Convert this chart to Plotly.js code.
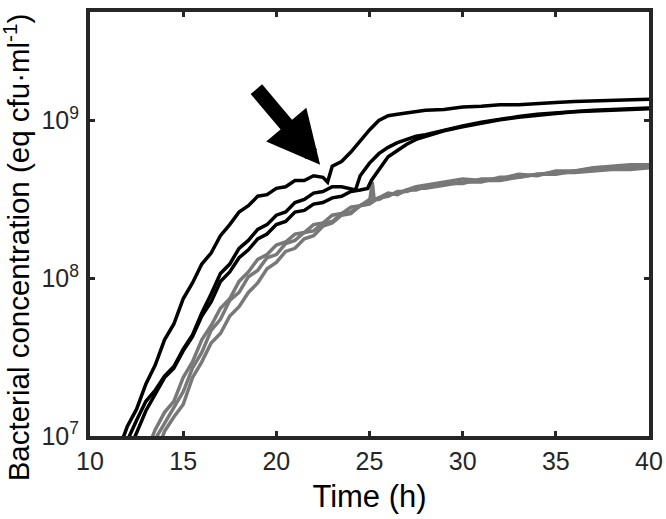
<!DOCTYPE html>
<html>
<head>
<meta charset="utf-8">
<script src="https://cdn.plot.ly/plotly-3.0.1.min.js"></script>
<style>html,body{margin:0;padding:0;background:#fff;}#chart{width:666px;height:519px;}</style>
</head>
<body>
<div id="chart"></div>
<script>
// Times (h) and log10 bacterial concentration (eq cfu/ml)
var tA = [11.5,12,12.5,13,13.5,14,14.5,15,15.5,16,16.5,17,17.5,18,18.5,19,19.5,20,20.5,21,21.5,22,22.5,22.75,23,23.5,24,24.5,25,25.5,26,26.5,27,28,29,30,31,32,33,34,35,36,37,38,39,40];
var logA = [6.90,7.06,7.17,7.33,7.45,7.61,7.71,7.87,7.97,8.09,8.16,8.27,8.34,8.42,8.46,8.52,8.53,8.57,8.58,8.62,8.62,8.65,8.64,8.61,8.71,8.74,8.80,8.87,8.94,9.00,9.03,9.04,9.05,9.065,9.07,9.085,9.09,9.10,9.10,9.11,9.115,9.12,9.125,9.13,9.13,9.135];

var tB = [11.5,12,12.5,13,13.5,14,14.5,15,15.5,16,16.5,17,17.5,18,18.5,19,19.5,20,20.5,21,21.5,22,22.5,23,23.5,24,24.25,24.5,25,25.5,26,26.5,27,27.5,28,29,30,31,32,33,34,35,36,37,38,39,40];
var logB = [6.82,6.97,7.10,7.22,7.29,7.38,7.44,7.55,7.64,7.78,7.90,8.03,8.09,8.19,8.24,8.31,8.34,8.40,8.42,8.48,8.50,8.54,8.55,8.58,8.58,8.57,8.56,8.65,8.73,8.79,8.83,8.86,8.88,8.90,8.91,8.94,8.965,8.99,9.01,9.025,9.04,9.05,9.06,9.065,9.07,9.075,9.08];

var tC = [11.5,12,12.5,13,13.5,14,14.5,15,15.5,16,16.5,17,17.5,18,18.5,19,19.5,20,20.5,21,21.5,22,22.5,23,23.5,24,24.5,24.9,25.1,25.5,26,26.5,27,27.5,28,29,30,31,32,33,34,35,36,37,38,39,40];
var logC = [6.75,6.88,7.02,7.16,7.26,7.37,7.43,7.54,7.63,7.76,7.85,7.98,8.04,8.13,8.18,8.25,8.28,8.34,8.36,8.42,8.43,8.47,8.48,8.51,8.52,8.55,8.56,8.57,8.62,8.69,8.77,8.81,8.85,8.88,8.90,8.935,8.96,8.985,9.005,9.02,9.035,9.045,9.055,9.06,9.07,9.07,9.075];

var tG = [12.5,13,13.5,14,14.5,15,15.5,16,16.5,17,17.5,18,18.5,19,19.5,20,20.5,21,21.5,22,22.5,23,23.5,24,24.5,25,25.5,26,26.5,27,27.5,28,29,30,31,32,33,34,35,36,37,38,39,40];
var logG1 = [6.75,6.90,7.04,7.15,7.22,7.37,7.47,7.61,7.70,7.81,7.87,7.98,8.04,8.12,8.15,8.21,8.23,8.28,8.29,8.34,8.35,8.40,8.41,8.45,8.46,8.50,8.50,8.53,8.54,8.56,8.56,8.58,8.60,8.60,8.63,8.63,8.66,8.65,8.68,8.68,8.70,8.71,8.72,8.72];
var logG3 = [6.60,6.72,6.87,7.03,7.12,7.20,7.37,7.47,7.59,7.65,7.76,7.82,7.91,7.97,8.06,8.10,8.17,8.19,8.25,8.27,8.33,8.35,8.40,8.41,8.46,8.47,8.51,8.52,8.55,8.55,8.57,8.57,8.59,8.61,8.61,8.64,8.64,8.66,8.67,8.67,8.68,8.69,8.69,8.70];

var tG2 = [12.5,13,13.5,14,14.5,15,15.5,16,16.5,17,17.5,18,18.5,19,19.5,20,20.5,21,21.5,22,22.5,23,23.5,24,24.5,25,25.15,25.25,25.5,26,26.5,27,27.5,28,29,30,31,32,33,34,35,36,37,38,39,40];
var logG2 = [6.68,6.82,6.98,7.08,7.18,7.28,7.43,7.53,7.67,7.74,7.86,7.91,8.01,8.05,8.13,8.15,8.22,8.24,8.29,8.30,8.35,8.36,8.41,8.42,8.46,8.48,8.61,8.50,8.51,8.54,8.53,8.56,8.58,8.59,8.61,8.63,8.62,8.62,8.64,8.66,8.66,8.68,8.69,8.70,8.70,8.71];

var xTicks = [10,15,20,25,30,35,40];
var yTickVals = [1e7,1e8,1e9];
var yTickText = ['10<sup>7</sup>','10<sup>8</sup>','10<sup>9</sup>'];
var xTitle = 'Time (h)';
var yTitle = 'Bacterial concentration (eq cfu·ml<sup>-1</sup>)';
var arrowTip = {t: 22.35, logc: 8.72};

function toConc(arr){ return arr.map(function(v){ return Math.pow(10, v); }); }

var GRAY = '#787878', BLACK = '#000000';
function tr(x, ylog, color){
  return {x: x, y: toConc(ylog), type: 'scatter', mode: 'lines',
          line: {color: color, width: 3.5}, hoverinfo: 'skip'};
}
var data = [
  tr(tG, logG1, GRAY), tr(tG2, logG2, GRAY), tr(tG, logG3, GRAY),
  tr(tC, logC, BLACK), tr(tB, logB, BLACK), tr(tA, logA, BLACK)
];

var axColor = '#262626';
var font = 'Liberation Sans, Arial, Helvetica, sans-serif';
var layout = {
  width: 666, height: 519,
  margin: {l: 90, r: 17, t: 12, b: 83},
  paper_bgcolor: '#fff', plot_bgcolor: '#fff',
  showlegend: false,
  font: {family: font, color: axColor},
  xaxis: {
    range: [10, 40], tickvals: xTicks, ticks: 'inside', ticklen: 5, tickwidth: 3, tickcolor: axColor,
    showline: true, linewidth: 4, linecolor: axColor, mirror: 'ticks', showgrid: false, zeroline: false,
    tickfont: {size: 25, family: font, color: axColor}, ticklabelstandoff: 0,
    title: {text: xTitle, font: {size: 31, family: font, color: '#000'}, standoff: 12}
  },
  yaxis: {
    type: 'log', range: [7, 9.688], tickvals: yTickVals, ticktext: yTickText,
    ticks: 'inside', ticklen: 5, tickwidth: 3, tickcolor: axColor,
    showline: true, linewidth: 4, linecolor: axColor, mirror: 'ticks', showgrid: false, zeroline: false,
    tickfont: {size: 25, family: font, color: axColor}, ticklabelstandoff: 2
  },
  annotations: [{
    x: arrowTip.t, y: arrowTip.logc, xref: 'x', yref: 'y', text: '',
    showarrow: true, arrowhead: 2, arrowsize: 0.7, arrowwidth: 15, arrowcolor: '#000',
    ax: -65, ay: -77
  }, {
    xref: 'paper', yref: 'paper', x: 0, y: 0.445, xshift: -74, textangle: -90,
    text: yTitle, showarrow: false, xanchor: 'center', yanchor: 'middle',
    font: {size: 29.5, family: font, color: '#000'}
  }]
};
Plotly.newPlot('chart', data, layout, {staticPlot: true, displayModeBar: false});
</script>
</body>
</html>
